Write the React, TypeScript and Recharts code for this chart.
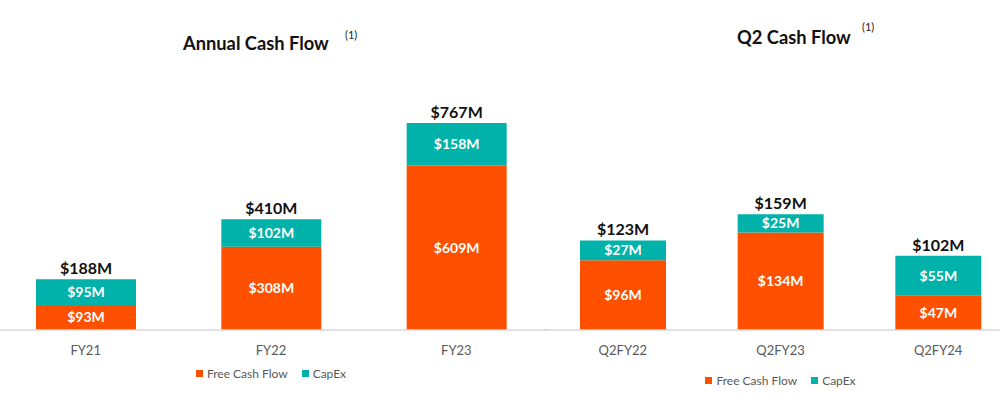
import { Bar, BarChart, LabelList, Legend, XAxis, YAxis } from "recharts";

const annualCategories = ["FY21", "FY22", "FY23"];
const annualFreeCashFlow = [93, 308, 609];
const annualCapEx = [95, 102, 158];

const quarterCategories = ["Q2FY22", "Q2FY23", "Q2FY24"];
const quarterFreeCashFlow = [96, 134, 47];
const quarterCapEx = [27, 25, 55];

const seriesOrder = ["fcf", "capex"];

const ORANGE = "#FF5000";
const TEAL = "#00B2A9";
const FONT = "Lato, 'Open Sans', sans-serif";

const buildRows = (cats: string[], fcf: number[], capex: number[]) =>
  cats.map((name, i) => ({
    name,
    fcf: fcf[i],
    capex: capex[i],
    total: fcf[i] + capex[i],
  }));

const annualRows = buildRows(annualCategories, annualFreeCashFlow, annualCapEx);
const quarterRows = buildRows(quarterCategories, quarterFreeCashFlow, quarterCapEx);

const money = (v: any) => `$${v}M`;

const LegendBox = ({ payload }: any) => {
  const items = [...(payload || [])].sort(
    (a: any, b: any) => seriesOrder.indexOf(a.dataKey) - seriesOrder.indexOf(b.dataKey)
  );
  return (
    <div
      style={{
        display: "flex",
        justifyContent: "center",
        gap: 14,
        fontFamily: FONT,
        fontSize: 12,
        color: "#595959",
      }}
    >
      {items.map((p: any) => (
        <div key={p.value} style={{ display: "flex", alignItems: "center" }}>
          <span
            style={{
              display: "inline-block",
              width: 7,
              height: 7,
              background: p.color,
              marginRight: 4,
            }}
          />
          {p.value}
        </div>
      ))}
    </div>
  );
};

const TotalLabel = (props: any) => {
  const { x, y, width, value } = props;
  return (
    <text
      x={x + width / 2}
      y={y - 5}
      textAnchor="middle"
      fontFamily={FONT}
      fontWeight={700}
      fontSize={16}
      fill="#111"
    >
      {money(value)}
    </text>
  );
};

const StackChart = ({
  rows,
  width,
  max,
  barSize,
  legendTop,
}: {
  rows: any[];
  width: number;
  max: number;
  barSize: number;
  legendTop: number;
}) => (
  <BarChart
    width={width}
    height={407}
    data={rows}
    margin={{ top: 100, right: 0, left: 0, bottom: 47 }}
    barSize={barSize}
  >
    <XAxis
      dataKey="name"
      height={30}
      tickLine={false}
      axisLine={{ stroke: "#D9D9D9", strokeWidth: 1.5 }}
      tickMargin={10}
      tick={{ fill: "#595959", fontSize: 13, fontFamily: FONT }}
    />
    <YAxis hide domain={[0, max]} />
    <Legend
      verticalAlign="middle"
      align="center"
      wrapperStyle={{ top: legendTop, left: 0, width }}
      content={<LegendBox />}
    />
    <Bar
      dataKey="fcf"
      name="Free Cash Flow"
      stackId="a"
      fill={ORANGE}
      isAnimationActive={false}
    >
      <LabelList
        dataKey="fcf"
        position="center"
        formatter={money}
        fill="#fff"
        fontFamily={FONT}
        fontWeight={700}
        fontSize={14}
      />
    </Bar>
    <Bar
      dataKey="capex"
      name="CapEx"
      stackId="a"
      fill={TEAL}
      isAnimationActive={false}
    >
      <LabelList
        dataKey="capex"
        position="center"
        formatter={money}
        fill="#fff"
        fontFamily={FONT}
        fontWeight={700}
        fontSize={14}
      />
      <LabelList dataKey="total" content={<TotalLabel />} />
    </Bar>
  </BarChart>
);

const Title = ({
  text,
  left,
  top,
  noteLeft,
  noteTop,
}: {
  text: string;
  left: number;
  top: number;
  noteLeft: number;
  noteTop: number;
}) => (
  <>
    <div
      style={{
        position: "absolute",
        left,
        top,
        fontFamily: FONT,
        fontWeight: 700,
        fontSize: 18.3,
        color: "#111",
        whiteSpace: "nowrap",
      }}
    >
      {text}
    </div>
    <div
      style={{
        position: "absolute",
        left: noteLeft,
        top: noteTop,
        fontFamily: FONT,
        fontSize: 11,
        color: "#222",
      }}
    >
      (1)
    </div>
  </>
);

export default function App() {
  return (
    <div
      style={{
        position: "absolute",
        left: 0,
        top: 0,
        width: 1000,
        height: 407,
        overflow: "hidden",
        background: "#fff",
      }}
    >
      <div style={{ position: "absolute", left: -7, top: 0 }}>
        <StackChart rows={annualRows} width={556} max={852} barSize={100} legendTop={366} />
      </div>
      <div style={{ position: "absolute", left: 544, top: 0 }}>
        <StackChart rows={quarterRows} width={473} max={316} barSize={86} legendTop={373} />
      </div>
      <Title text="Annual Cash Flow" left={183} top={32} noteLeft={345} noteTop={28} />
      <Title text="Q2 Cash Flow" left={737} top={26} noteLeft={862} noteTop={20} />
    </div>
  );
}
